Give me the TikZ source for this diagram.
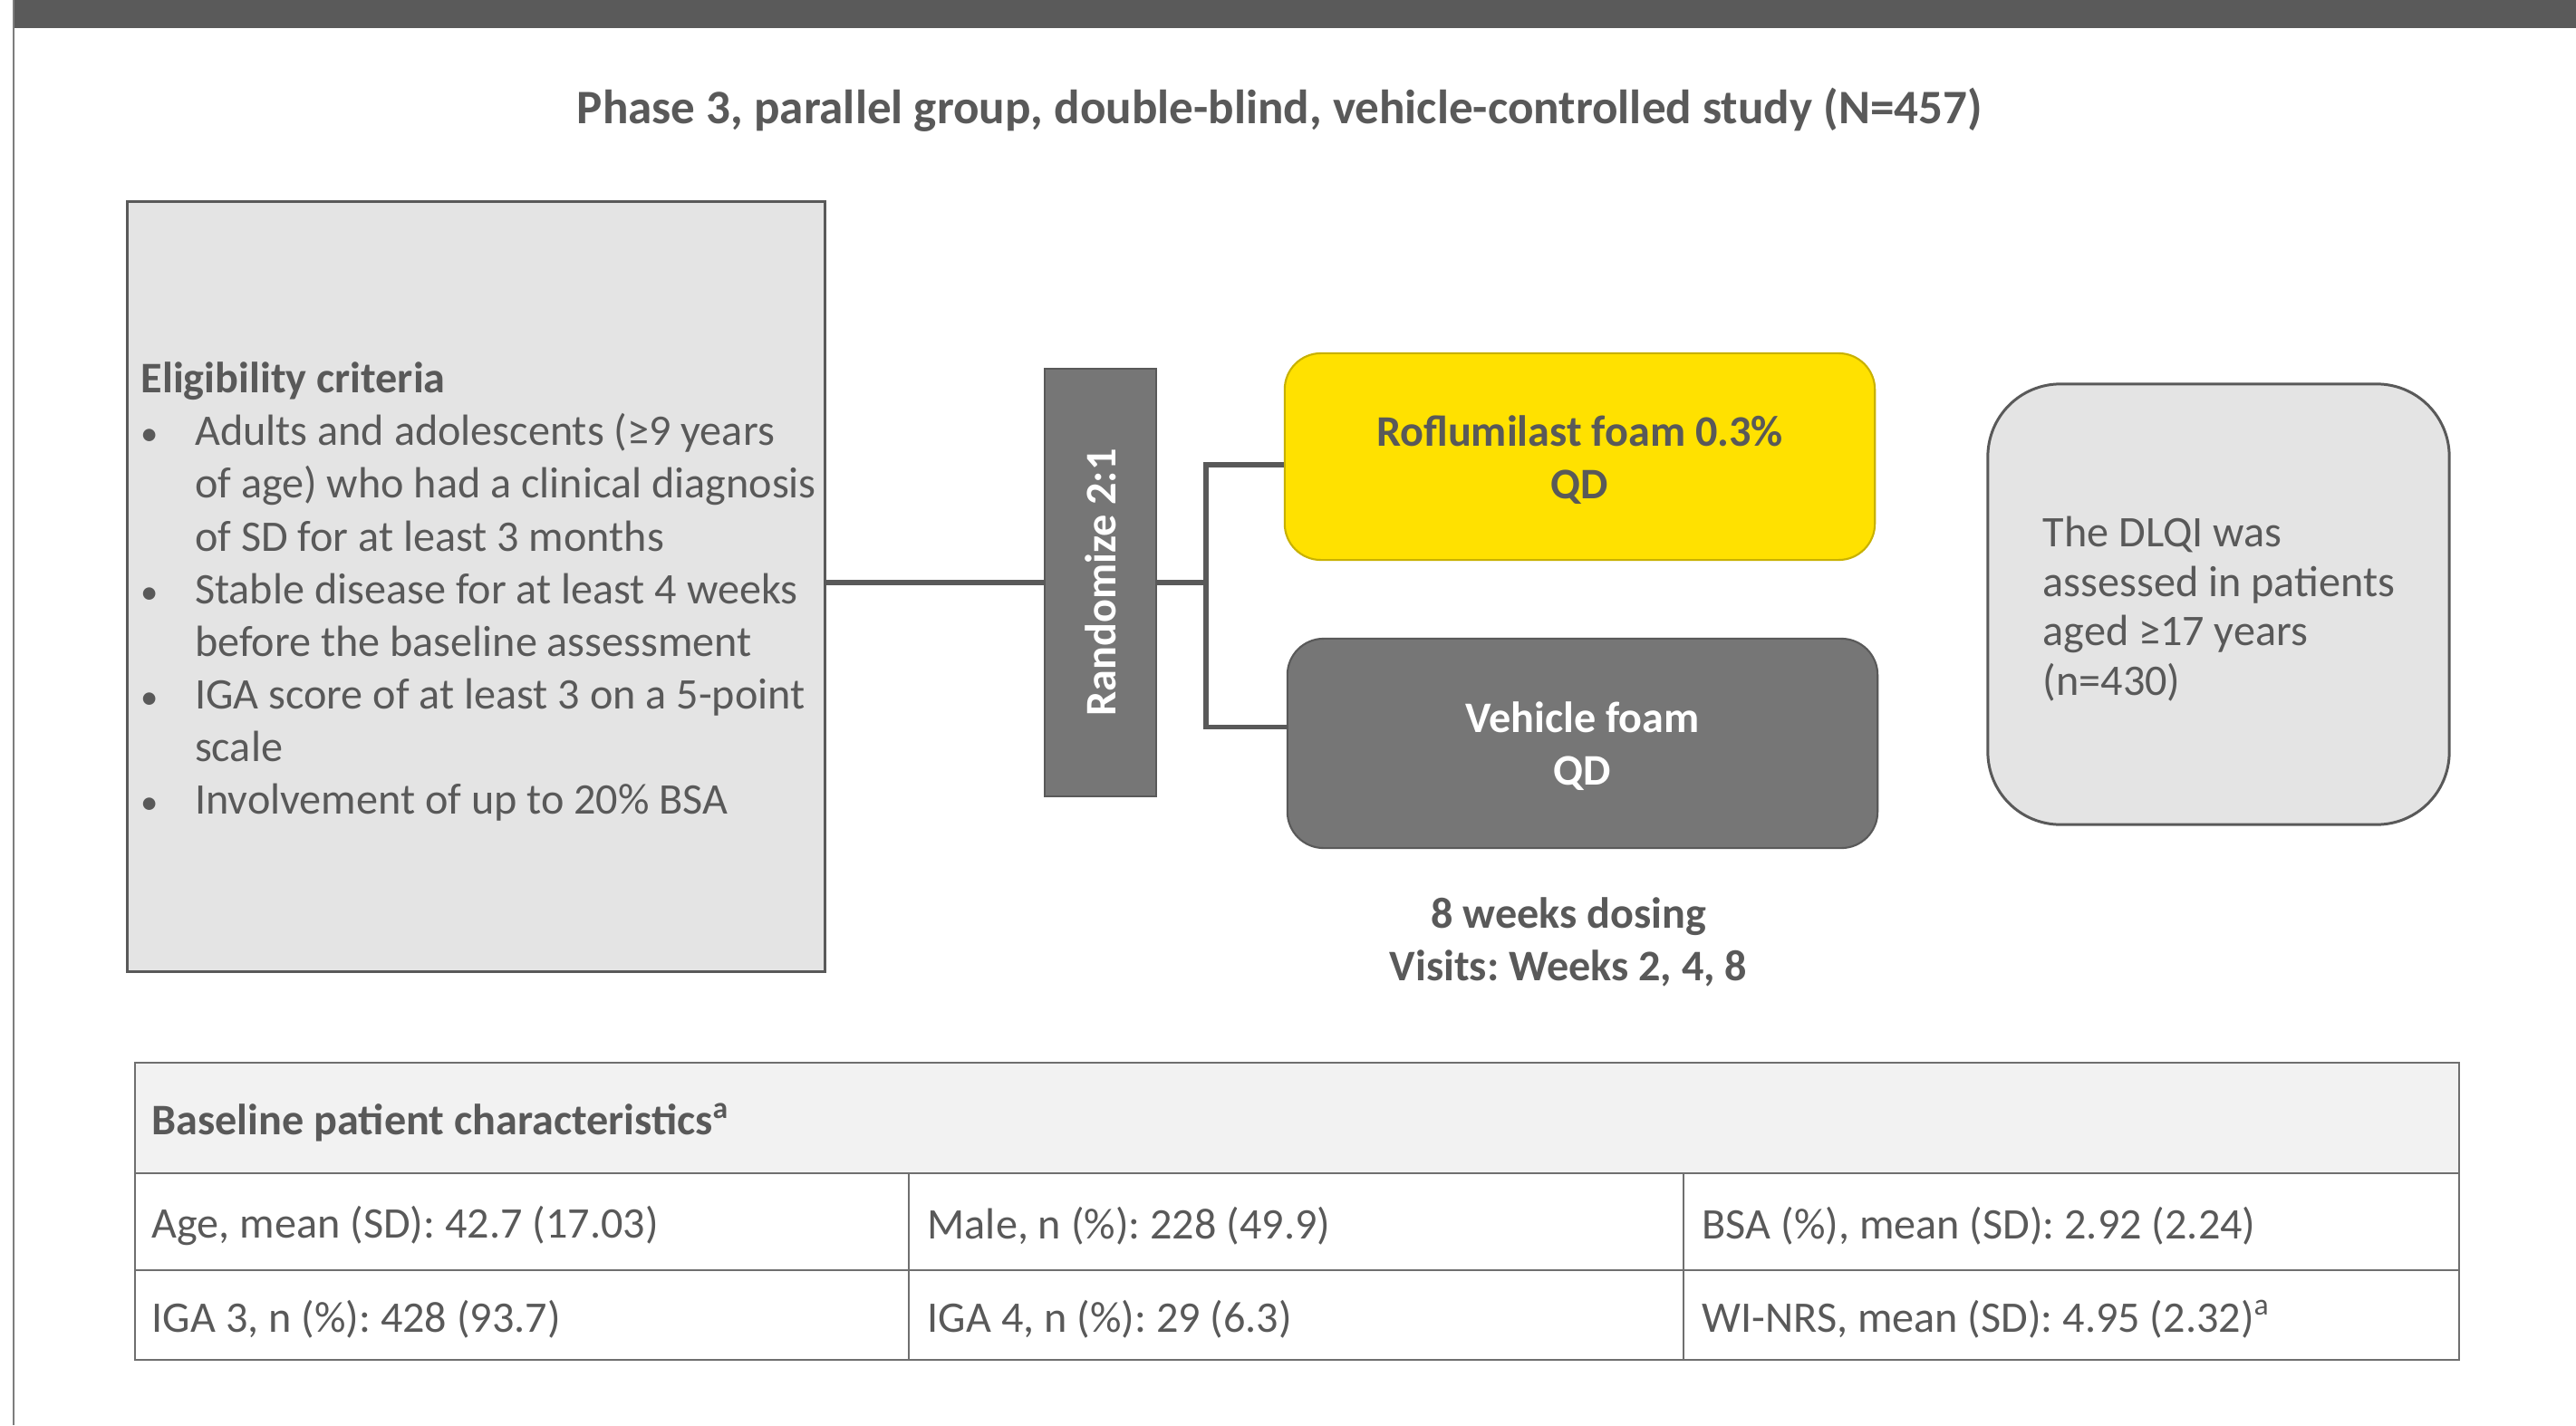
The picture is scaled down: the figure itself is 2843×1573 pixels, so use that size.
\documentclass[tikz,border=0pt]{standalone}
\usepackage{fontspec}
\setmainfont{Carlito}
\definecolor{txtgray}{HTML}{595959}
\definecolor{boxgray}{HTML}{E4E4E4}
\definecolor{darkbox}{HTML}{767676}
\definecolor{rofyellow}{HTML}{FFE100}
\definecolor{rofedge}{HTML}{C8B100}
\definecolor{linegray}{HTML}{6F6F6F}
\definecolor{headfill}{HTML}{F2F2F2}
\definecolor{barfill}{HTML}{5A5A5A}
\newcommand{\bul}{\makebox[16.9pt][l]{\fontsize{11}{11}\selectfont•}}
\newcommand{\ind}{\hspace*{16.9pt}}

\begin{document}
\frenchspacing
\fontsize{13.7}{16.5}\selectfont
\begin{tikzpicture}[x=0.01cm,y=-0.01cm,
  every node/.style={text=txtgray,inner sep=0pt},
  critbox/.style={draw=txtgray,line width=0.85pt,fill=boxgray},
  randbox/.style={draw=txtgray,line width=0.6pt,fill=darkbox},
  armbox/.style={rounded corners=0.4cm,line width=0.6pt,align=center,font=\bfseries},
  conn/.style={draw=txtgray,line width=1.5pt},
  tabline/.style={draw=linegray,line width=0.7pt}]
  \useasboundingbox (0,0) rectangle (2843,1573);
  % banda superior
  \fill[barfill] (15,0) rectangle (2843,31);
  \draw[draw=linegray!90,line width=0.6pt] (15,0) -- (15,1573);
  \node (title) [font=\fontsize{15.1}{18}\selectfont\bfseries] at (1412,121) {Phase 3, parallel group, double-blind, vehicle-controlled study (N=457)};
  % criterios
  \node (elig) [critbox,minimum width=7.69cm,minimum height=8.49cm] at (525.5,647.5) {};
  \node (elig-txt) [anchor=west,align=left] at (155,653) {\textbf{Eligibility criteria}\\
    \bul Adults and adolescents (≥9 years\\
    \ind of age) who had a clinical diagnosis\\
    \ind of SD for at least 3 months\\
    \bul Stable disease for at least 4 weeks\\
    \ind before the baseline assessment\\
    \bul IGA score of at least 3 on a 5-point\\
    \ind scale\\
    \bul Involvement of up to 20\% BSA};
  % aleatorizacion
  \node (rand) [randbox,minimum width=1.23cm,minimum height=4.72cm] at (1214.5,643) {};
  \node (rand-txt) [rotate=90,font=\bfseries,text=white] at (rand) {Randomize 2:1};
  % brazos
  \node (roflu) [armbox,fill=rofyellow,draw=rofedge,minimum width=6.51cm,minimum height=2.28cm] at (1743.5,504) {\strut Roflumilast foam 0.3\%\\QD};
  \node (vehicle) [armbox,fill=darkbox,draw=txtgray,text=white,minimum width=6.51cm,minimum height=2.31cm] at (1746.5,820.5) {\strut Vehicle foam\\QD};
  \node (dosing) [font=\bfseries,align=center] at (1731,1040) {8 weeks dosing\\Visits: Weeks 2, 4, 8};
  % DLQI
  \node (dlqi) [critbox,rounded corners=0.8cm,minimum width=5.09cm,minimum height=4.86cm] at (2448.5,667) {};
  \node (dlqi-txt) [anchor=west,align=left,font=\fontsize{13.7}{15.5}\selectfont] at (2254,672) {The DLQI was\\assessed in patients\\aged ≥17 years\\(n=430)};
  % conectores
  \coordinate (split) at (1331,643);
  \draw[conn] (elig.east |- rand.west) -- (rand.west);
  \draw[conn] (rand.east) -- (split);
  \draw[conn] ([yshift=-0.09cm]roflu.west) -| (split) |- ([yshift=0.18cm]vehicle.west);
  % tabla
  \fill[headfill] (149,1173) rectangle (2714,1295);
  \draw[tabline] (149,1173) rectangle (2714,1501);
  \draw[tabline] (149,1295) -- (2714,1295);
  \draw[tabline] (149,1402) -- (2714,1402);
  \draw[tabline,line width=0.45pt] (1003,1295) -- (1003,1501);
  \draw[tabline,line width=0.45pt] (1858,1295) -- (1858,1501);
  \node (head) [anchor=west,font=\bfseries] at (167,1239) {Baseline patient characteristics\textsuperscript{a}};
  \node (age) [anchor=west] at (167,1353) {Age, mean (SD): 42.7 (17.03)};
  \node (male) [anchor=west] at (1023,1353) {Male, n (\%): 228 (49.9)};
  \node (bsa) [anchor=west] at (1878,1353) {BSA (\%), mean (SD): 2.92 (2.24)};
  \node (iga3) [anchor=west] at (167,1456) {IGA 3, n (\%): 428 (93.7)};
  \node (iga4) [anchor=west] at (1023,1456) {IGA 4, n (\%): 29 (6.3)};
  \node (wi) [anchor=west] at (1878,1456) {WI-NRS, mean (SD): 4.95 (2.32)\textsuperscript{a}};
\end{tikzpicture}
\end{document}
